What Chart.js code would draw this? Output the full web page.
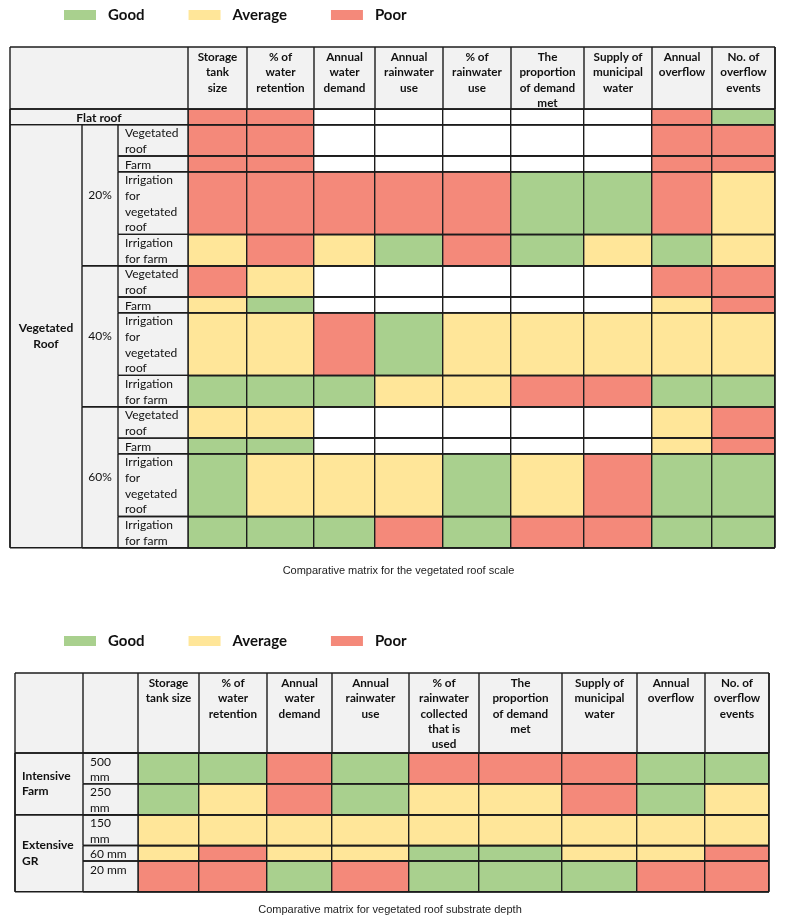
<!DOCTYPE html>
<html>
<head>
<meta charset="utf-8">
<script src="https://cdn.jsdelivr.net/npm/chart.js@4/dist/chart.umd.min.js"></script>
<style>
  body { margin: 0; background: #fff; }
  canvas { display: block; }
</style>
</head>
<body>
<canvas id="roofScale" width="800" height="600"></canvas>
<canvas id="substrateDepth" width="800" height="319"></canvas>
<script>
const G = 'Good', A = 'Average', P = 'Poor', _ = null;
const LEVELS = [G, A, P];

// ---- Comparative matrix for the vegetated roof scale
const scaleMetrics = [
    'Storage\ntank\nsize', '% of\nwater\nretention', 'Annual\nwater\ndemand', 'Annual\nrainwater\nuse',
    '% of\nrainwater\nuse', 'The\nproportion\nof demand\nmet', 'Supply of\nmunicipal\nwater',
    'Annual\noverflow', 'No. of\noverflow\nevents'
];
const scaleRows = [
    ['Flat roof'],
    ['Vegetated\nRoof', '20%', 'Vegetated\nroof'],
    ['Vegetated\nRoof', '20%', 'Farm'],
    ['Vegetated\nRoof', '20%', 'Irrigation\nfor\nvegetated\nroof'],
    ['Vegetated\nRoof', '20%', 'Irrigation\nfor farm'],
    ['Vegetated\nRoof', '40%', 'Vegetated\nroof'],
    ['Vegetated\nRoof', '40%', 'Farm'],
    ['Vegetated\nRoof', '40%', 'Irrigation\nfor\nvegetated\nroof'],
    ['Vegetated\nRoof', '40%', 'Irrigation\nfor farm'],
    ['Vegetated\nRoof', '60%', 'Vegetated\nroof'],
    ['Vegetated\nRoof', '60%', 'Farm'],
    ['Vegetated\nRoof', '60%', 'Irrigation\nfor\nvegetated\nroof'],
    ['Vegetated\nRoof', '60%', 'Irrigation\nfor farm']
];
const flatRoof = [
    [P, P, _, _, _, _, _, P, G]
];
const cover20 = [
    [P, P, _, _, _, _, _, P, P],
    [P, P, _, _, _, _, _, P, P],
    [P, P, P, P, P, G, G, P, A],
    [A, P, A, G, P, G, A, G, A]
];
const cover40 = [
    [P, A, _, _, _, _, _, P, P],
    [A, G, _, _, _, _, _, A, P],
    [A, A, P, G, A, A, A, A, A],
    [G, G, G, A, A, P, P, G, G]
];
const cover60 = [
    [A, A, _, _, _, _, _, A, P],
    [G, G, _, _, _, _, _, A, P],
    [G, A, A, A, G, A, P, G, G],
    [G, G, G, P, G, P, P, G, G]
];

// ---- Comparative matrix for vegetated roof substrate depth
const depthMetrics = [
    'Storage\ntank size', '% of\nwater\nretention', 'Annual\nwater\ndemand', 'Annual\nrainwater\nuse',
    '% of\nrainwater\ncollected\nthat is\nused', 'The\nproportion\nof demand\nmet', 'Supply of\nmunicipal\nwater',
    'Annual\noverflow', 'No. of\noverflow\nevents'
];
const depthRows = [
    ['Intensive\nFarm', '500\nmm'],
    ['Intensive\nFarm', '250\nmm'],
    ['Extensive\nGR', '150\nmm'],
    ['Extensive\nGR', '60 mm'],
    ['Extensive\nGR', '20 mm\n']
];
const intensiveFarm = [
    [G, G, P, G, P, P, P, G, G],
    [G, A, P, G, A, A, P, G, A]
];
const extensiveGR = [
    [A, A, A, A, A, A, A, A, A],
    [A, P, A, A, G, G, A, A, P],
    [P, P, G, P, G, G, G, P, P]
];

// ---- styles
const COLORS = { Good: '#A9D08E', Average: '#FFE699', Poor: '#F4897A' };
const LINE = '#1c1c1c';
const LW = 1.4;
const HEAD_BG = '#F2F2F2';
const TEXT = '#111';

Chart.defaults.font.family = 'Lato';

buildMatrix('roofScale', {
    metrics: scaleMetrics,
    rowLabels: scaleRows,
    scores: [...flatRoof, ...cover20, ...cover40, ...cover60],
    caption: 'Comparative matrix for the vegetated roof scale',
    colWidths: [59, 67, 61, 68, 68, 73, 68, 60, 63],
    labelCols: [72, 36, 70],
    levelStyles: [{ bold: true, align: 'center' }, { bold: false, align: 'center' }, { bold: false, align: 'left' }],
    headerSplit: false,
    headerH: 62,
    padding: { top: 47, left: 22, right: 25, bottom: 0 },
    yWidth: 166,
    captionPad: { top: 17, bottom: 22 }
});

buildMatrix('substrateDepth', {
    metrics: depthMetrics,
    rowLabels: depthRows,
    scores: [...intensiveFarm, ...extensiveGR],
    caption: 'Comparative matrix for vegetated roof substrate depth',
    colWidths: [61, 68, 65, 77, 70, 83, 75, 68, 64],
    labelCols: [68, 55],
    levelStyles: [{ bold: true, align: 'left' }, { bold: false, align: 'left' }],
    headerSplit: true,
    headerH: 80,
    padding: { top: 73, left: 11, right: 31, bottom: 0 },
    yWidth: 127,
    captionPad: { top: 12, bottom: 2 }
});

function edges(sizes){
    const out = [0];
    sizes.forEach(s => out.push(out[out.length - 1] + s));
    return out;
}

function buildMatrix(id, spec){
    const colEdges = edges(spec.colWidths);
    const rowEdges = edges(spec.rowLabels.map(r => r[r.length - 1].split('\n').length));

    // one filled strip per rated cell: top edge as a line, filled down to the row's bottom edge
    const datasets = [];
    spec.scores.forEach((row, r) => row.forEach((rating, c) => {
        if (!rating) return;
        datasets.push({
            label: rating,
            data: [{ x: colEdges[c], y: rowEdges[r] }, { x: colEdges[c + 1], y: rowEdges[r] }],
            fill: { value: rowEdges[r + 1] },
            backgroundColor: COLORS[rating],
            borderColor: 'transparent',
            borderWidth: 0,
            pointRadius: 0
        });
    }));

    new Chart(document.getElementById(id), {
        type: 'line',
        data: { datasets },
        options: {
            responsive: false,
            animation: false,
            events: [],
            layout: { padding: spec.padding },
            scales: {
                x: {
                    type: 'linear', position: 'top', min: 0, max: colEdges[colEdges.length - 1],
                    afterBuildTicks: s => { s.ticks = colEdges.map(v => ({ value: v })); },
                    afterFit: s => { s.height = spec.headerH; },
                    ticks: { display: false },
                    grid: { color: LINE, lineWidth: LW, drawTicks: false, z: 1 },
                    border: { color: LINE, width: LW, z: 1 }
                },
                y: {
                    type: 'linear', reverse: true, min: 0, max: rowEdges[rowEdges.length - 1],
                    afterBuildTicks: s => { s.ticks = rowEdges.map(v => ({ value: v })); },
                    afterFit: s => { s.width = spec.yWidth; },
                    ticks: { display: false },
                    grid: { color: LINE, lineWidth: LW, drawTicks: false, z: 1 },
                    border: { color: LINE, width: LW, z: 1 }
                }
            },
            plugins: {
                legend: { display: false },
                tooltip: { enabled: false },
                title: {
                    display: true,
                    text: spec.caption,
                    position: 'bottom',
                    color: '#222',
                    font: { family: 'Liberation Sans', size: 11, weight: 'normal' },
                    padding: spec.captionPad
                }
            }
        },
        plugins: [tableFrame(spec, colEdges, rowEdges)]
    });
}

// header, row labels, label-column borders and the Good/Average/Poor key
function tableFrame(spec, colEdges, rowEdges){
    return {
        id: 'tableFrame',
        afterDraw(chart){
            const { ctx, chartArea: ca, scales: { x, y } } = chart;
            const left = ca.left - spec.labelCols.reduce((a, b) => a + b, 0);
            const top = ca.top - spec.headerH;
            const colStarts = edges(spec.labelCols).map(v => left + v);
            const unit = y.getPixelForValue(1) - y.getPixelForValue(0);

            ctx.save();
            ctx.fillStyle = HEAD_BG;
            ctx.fillRect(left, top, ca.right - left, spec.headerH);
            ctx.fillRect(left, ca.top, ca.left - left, ca.bottom - ca.top);

            ctx.strokeStyle = LINE;
            ctx.lineWidth = LW;
            const line = (x0, y0, x1, y1) => { ctx.beginPath(); ctx.moveTo(x0, y0); ctx.lineTo(x1, y1); ctx.stroke(); };

            // header
            ctx.fillStyle = TEXT;
            ctx.textBaseline = 'middle';
            ctx.textAlign = 'center';
            ctx.font = 'bold 11.7px Lato';
            spec.metrics.forEach((m, c) => {
                const x0 = x.getPixelForValue(colEdges[c]), x1 = x.getPixelForValue(colEdges[c + 1]);
                m.split('\n').forEach((t, i) => ctx.fillText(t, (x0 + x1) / 2, top + 10.5 + i * 15.2));
            });
            colEdges.forEach(v => line(x.getPixelForValue(v), top, x.getPixelForValue(v), ca.top));
            if (spec.headerSplit) colStarts.slice(1, -1).forEach(px => line(px, top, px, ca.top));
            line(left, top, ca.right, top);
            line(left, ca.top, ca.right, ca.top);

            // row labels, merged by level
            const rows = spec.rowLabels;
            const depth = Math.max(...rows.map(r => r.length));
            for (let k = 0; k < depth; k++){
                const style = spec.levelStyles[k];
                let r = 0;
                while (r < rows.length){
                    if (rows[r].length <= k){ r++; continue; }
                    const key = rows[r].slice(0, k + 1).join('|');
                    let end = r;
                    while (end + 1 < rows.length && rows[end + 1].length > k && rows[end + 1].slice(0, k + 1).join('|') === key) end++;
                    const leaf = rows[r].length === k + 1;
                    const x0 = colStarts[k], x1 = leaf ? ca.left : colStarts[k + 1];
                    const y0 = y.getPixelForValue(rowEdges[r]), y1 = y.getPixelForValue(rowEdges[end + 1]);
                    const lines = rows[r][k].split('\n');

                    ctx.fillStyle = TEXT;
                    ctx.font = (style.bold ? 'bold ' : '') + '12px Lato';
                    ctx.textAlign = style.align;
                    const tx = style.align === 'center' ? (x0 + x1) / 2 : x0 + 7;
                    lines.forEach((t, i) => {
                        const ty = end === r ? y0 + (i + 0.5) * unit + 1 : (y0 + y1) / 2 + (i - (lines.length - 1) / 2) * unit;
                        ctx.fillText(t, tx, ty);
                    });

                    line(x0, y0, ca.right, y0);
                    line(x0, y1, ca.right, y1);
                    line(x0, y0, x0, y1);
                    r = end + 1;
                }
            }
            line(ca.left, ca.top, ca.left, ca.bottom);
            line(left, top, left, ca.bottom);
            line(ca.right, top, ca.right, ca.bottom);

            // key
            const ky = top - 32;
            let kx = 64;
            ctx.font = 'bold 15px Lato';
            ctx.textAlign = 'left';
            LEVELS.forEach(level => {
                ctx.fillStyle = COLORS[level];
                ctx.fillRect(kx, ky - 5, 32, 10);
                ctx.fillStyle = TEXT;
                ctx.fillText(level, kx + 44, ky);
                kx += 44 + ctx.measureText(level).width + 44;
            });
            ctx.restore();
        }
    };
}
</script>
</body>
</html>
